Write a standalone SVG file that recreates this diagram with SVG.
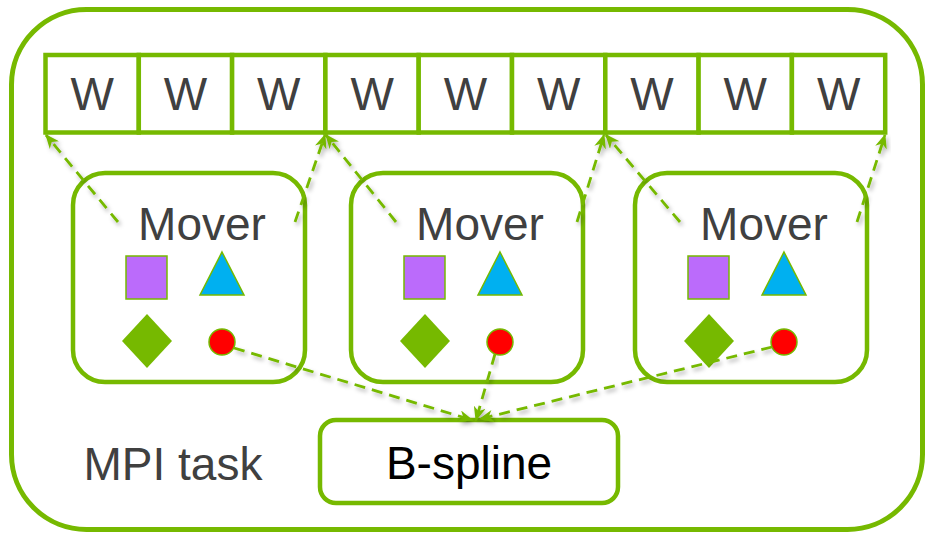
<svg xmlns="http://www.w3.org/2000/svg" width="927" height="533" viewBox="0 0 927 533">
<defs>
<style>
.frame{fill:none;stroke:#76B900;stroke-width:5}
.cell{fill:#fff;stroke:#76B900;stroke-width:4.5}
.box{fill:none;stroke:#76B900;stroke-width:4.5}
.lbl{font-family:"Liberation Sans",Arial,sans-serif;font-size:46px;fill:#404040;text-anchor:middle}
.dark{fill:#000}
.conn{fill:none;stroke:#76B900;stroke-width:2.8;stroke-dasharray:11 7;marker-end:url(#ah);filter:url(#sh)}
.sq{fill:#BB6BFB;stroke:#76B900;stroke-width:1.5}
.tri{fill:#00B0F0;stroke:#76B900;stroke-width:1.5}
.dia{fill:#76B900}
.dot{fill:#FF0000;stroke:#76B900;stroke-width:1.5}
</style>
<marker id="ah" viewBox="0 0 12 10" refX="11" refY="5" markerWidth="15" markerHeight="12" markerUnits="userSpaceOnUse" orient="auto">
<path d="M0,0 L12,5 L0,10 L3.5,5 z" fill="#76B900"/>
</marker>
<filter id="sh" x="-20%" y="-20%" width="140%" height="140%">
<feDropShadow dx="2" dy="3" stdDeviation="2" flood-color="#000" flood-opacity="0.3"/>
</filter>
</defs>

<g id="mpi-task">
<rect class="frame" x="11.5" y="9.5" width="911" height="520" rx="75" ry="75"/>
<text class="lbl" x="173" y="480">MPI task</text>
</g>

<g id="w-array">
<g id="w1"><rect class="cell" x="45.5" y="55" width="93.3" height="77.5"/><text class="lbl" x="92.2" y="110">W</text></g>
<g id="w2"><rect class="cell" x="138.8" y="55" width="93.3" height="77.5"/><text class="lbl" x="185.5" y="110">W</text></g>
<g id="w3"><rect class="cell" x="232.1" y="55" width="93.3" height="77.5"/><text class="lbl" x="278.8" y="110">W</text></g>
<g id="w4"><rect class="cell" x="325.4" y="55" width="93.3" height="77.5"/><text class="lbl" x="372.1" y="110">W</text></g>
<g id="w5"><rect class="cell" x="418.7" y="55" width="93.3" height="77.5"/><text class="lbl" x="465.4" y="110">W</text></g>
<g id="w6"><rect class="cell" x="512" y="55" width="93.3" height="77.5"/><text class="lbl" x="558.7" y="110">W</text></g>
<g id="w7"><rect class="cell" x="605.3" y="55" width="93.3" height="77.5"/><text class="lbl" x="652" y="110">W</text></g>
<g id="w8"><rect class="cell" x="698.6" y="55" width="93.3" height="77.5"/><text class="lbl" x="745.3" y="110">W</text></g>
<g id="w9"><rect class="cell" x="791.9" y="55" width="93.3" height="77.5"/><text class="lbl" x="838.6" y="110">W</text></g>
</g>

<g id="mover1">
<rect class="box" x="73" y="173" width="232" height="209" rx="32" ry="32"/>
<text class="lbl" x="202" y="240">Mover</text>
<rect class="sq" x="126" y="256" width="41" height="43"/>
<polygon class="tri" points="222,252 244,295 200,295"/>
<polygon class="dia" points="147,314 172,341 147,368 122,341"/>
<circle class="dot" cx="222" cy="342" r="13"/>
</g>

<g id="mover2">
<rect class="box" x="351" y="173" width="232" height="209" rx="32" ry="32"/>
<text class="lbl" x="480" y="240">Mover</text>
<rect class="sq" x="404" y="256" width="41" height="43"/>
<polygon class="tri" points="500,252 522,295 478,295"/>
<polygon class="dia" points="425,314 450,341 425,368 400,341"/>
<circle class="dot" cx="500" cy="342" r="13"/>
</g>

<g id="mover3">
<rect class="box" x="635" y="173" width="232" height="209" rx="32" ry="32"/>
<text class="lbl" x="764" y="240">Mover</text>
<rect class="sq" x="688" y="256" width="41" height="43"/>
<polygon class="tri" points="784,252 806,295 762,295"/>
<polygon class="dia" points="709,314 734,341 709,368 684,341"/>
<circle class="dot" cx="784" cy="342" r="13"/>
</g>

<g id="bspline">
<rect class="box" x="320" y="420" width="298" height="83" rx="16" ry="16"/>
<text class="lbl dark" x="469" y="479">B-spline</text>
</g>

<g id="connectors">
<line class="conn" x1="118" y1="222" x2="46" y2="135"/>
<line class="conn" x1="295" y1="222" x2="325" y2="135"/>
<line class="conn" x1="396" y1="222" x2="326" y2="135"/>
<line class="conn" x1="577" y1="222" x2="604" y2="135"/>
<line class="conn" x1="680" y1="222" x2="606" y2="135"/>
<line class="conn" x1="857" y1="222" x2="885" y2="135"/>
<line class="conn" x1="234" y1="348" x2="472" y2="420"/>
<line class="conn" x1="495" y1="354" x2="476" y2="420"/>
<line class="conn" x1="772" y1="347" x2="480" y2="419"/>
</g>
</svg>
